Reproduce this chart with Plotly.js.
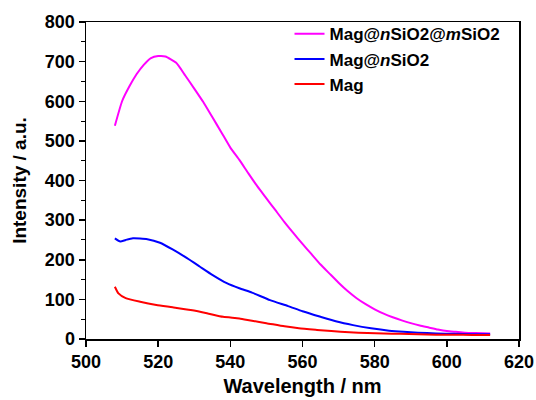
<!DOCTYPE html>
<html>
<head>
<meta charset="utf-8">
<script src="https://cdn.plot.ly/plotly-3.0.1.min.js"></script>
<style>html,body{margin:0;padding:0;background:#fff;}#chart{width:536px;height:400px;}</style>
</head>
<body>
<div id="chart"></div>
<script>
var seriesNames = ["Mag@<i>n</i>SiO2@<i>m</i>SiO2", "Mag@<i>n</i>SiO2", "Mag"];
var seriesColors = ["#ff00ff", "#0000ff", "#ff0000"];

var magMx = [508, 510, 512, 514, 516, 518, 520, 522, 525, 527.5, 530, 532.5, 535, 537.5, 540, 542.5, 545, 547.5, 550, 552.5, 555, 557.5, 560, 562.5, 565, 567.5, 570, 572.5, 575, 577.5, 580, 582.5, 585, 587.5, 590, 592.5, 595, 597.5, 600, 602.5, 605, 608, 612];
var magMy = [538, 600, 637, 668, 692, 709, 714, 713, 697, 665, 632, 598, 560, 522, 483, 452, 418, 385, 355, 325, 295, 267, 240, 214, 188, 165, 142, 121, 103, 88, 75, 64, 55, 47, 40, 34, 29, 24, 20, 18, 16, 15, 14];

var magNx = [508, 509.5, 511, 513, 517, 520.5, 524, 528, 531.5, 535, 539, 542.5, 546, 551, 556, 560, 565, 569.5, 574, 579, 584, 588, 592, 597, 602, 607, 612];
var magNy = [254, 246, 250, 254, 252, 243, 226, 204, 183, 162, 141, 128, 117, 98, 83, 70, 56, 44, 35, 27, 21, 18, 16, 14, 13, 12, 12];

var magx = [508, 509, 511, 515, 519.5, 524, 529, 533.5, 538, 542.5, 546, 550, 555, 559, 564, 568, 573, 578, 582.5, 587, 592, 597, 602, 607, 612];
var magy = [132, 115, 103, 94, 86, 80, 73, 65, 56, 52, 46, 40, 32, 27, 23, 20, 17, 15, 14, 13, 12, 11, 11, 10, 10];

var xTicks = [500, 520, 540, 560, 580, 600, 620];
var yTicks = [0, 100, 200, 300, 400, 500, 600, 700, 800];

var xs = [magMx, magNx, magx];
var ys = [magMy, magNy, magy];
var traces = [];
for (var i = 0; i < 3; i++) {
  traces.push({
    x: xs[i], y: ys[i], type: "scatter", mode: "lines",
    name: seriesNames[i],
    line: {color: seriesColors[i], width: 2, shape: "spline", smoothing: 0.5}
  });
}

var fontFam = "Liberation Sans, Arial, sans-serif";
var layout = {
  width: 536, height: 400,
  margin: {l: 86, r: 17, t: 22, b: 61},
  paper_bgcolor: "#ffffff",
  plot_bgcolor: "#ffffff",
  showlegend: true,
  legend: {
    x: 0.47, y: 1.018, xanchor: "left", yanchor: "top",
    bgcolor: "rgba(0,0,0,0)",
    font: {family: fontFam, size: 17, color: "#000", weight: "bold"},
    tracegroupgap: 0
  },
  xaxis: {
    range: [500, 620],
    tickvals: xTicks, ticktext: xTicks.map(String),
    ticks: "outside", ticklen: 6, tickwidth: 1.5, tickcolor: "#000",
    showline: true, linecolor: "#000", linewidth: 1.5, mirror: true,
    showgrid: false, zeroline: false,
    tickfont: {family: fontFam, size: 18, color: "#000", weight: "bold"},
    title: {text: "Wavelength / nm", font: {family: fontFam, size: 20, color: "#000", weight: "bold"}, standoff: 8}
  },
  yaxis: {
    range: [0, 800],
    tickvals: yTicks, ticktext: yTicks.map(String),
    ticks: "outside", ticklen: 6, tickwidth: 1.5, tickcolor: "#000",
    showline: true, linecolor: "#000", linewidth: 1.5, mirror: true,
    showgrid: false, zeroline: false,
    tickfont: {family: fontFam, size: 18, color: "#000", weight: "bold"},
    title: {text: "Intensity / a.u.", font: {family: fontFam, size: 19, color: "#000", weight: "bold"}, standoff: 13},
    minor: {ticks: "outside", ticklen: 4, tickwidth: 1, tickcolor: "#000", dtick: 50, showgrid: false}
  }
};

Plotly.newPlot("chart", traces, layout, {displayModeBar: false, staticPlot: true});
</script>
</body>
</html>
